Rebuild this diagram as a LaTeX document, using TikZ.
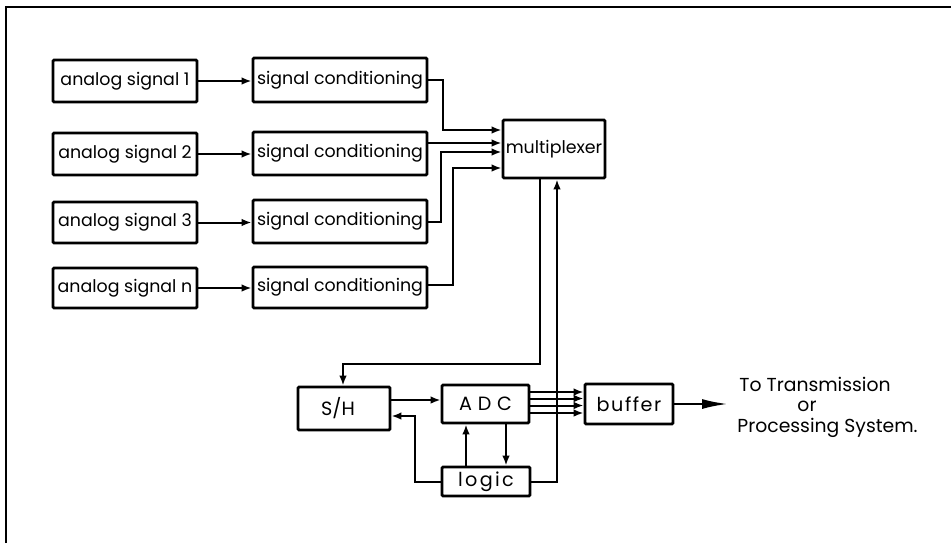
\documentclass[tikz,border=0pt]{standalone}
\usepackage{fontspec}
\setmainfont{Poppins}
\usetikzlibrary{arrows.meta}
\tikzset{
  blk/.style={draw, line width=1.4pt, rounded corners=0.6pt, inner sep=0pt, font=\fontsize{8.7}{10}\selectfont},
  arr/.style={line width=1pt, -{Latex[length=5pt,width=3.8pt]}},
  bigarr/.style={line width=1.2pt, -{Latex[length=13pt,width=5pt]}},
  lbl/.style={inner sep=0pt, font=\fontsize{9.4}{11}\selectfont}
}
\begin{document}
\begin{tikzpicture}[x=0.5pt,y=-0.5pt]
\useasboundingbox (0,0) rectangle (951,543);
% frame
\draw[line width=1.1pt] (6,543) -- (6,7) -- (951,7);
% sources
\node[blk, minimum width=72pt, minimum height=21pt] (a1) at (125,81) {analog signal 1};
\node[blk, minimum width=72pt, minimum height=21pt] (a2) at (125,154) {analog signal 2};
\node[blk, minimum width=72pt, minimum height=20.5pt] (a3) at (125,222.5) {analog signal 3};
\node[blk, minimum width=72pt, minimum height=20pt] (an) at (125,288) {analog signal n};
% conditioning
\node[blk, minimum width=87pt, minimum height=22pt] (s1) at (340,80) {signal conditioning};
\node[blk, minimum width=87pt, minimum height=21.5pt] (s2) at (340,153.5) {signal conditioning};
\node[blk, minimum width=87pt, minimum height=21.5pt] (s3) at (340,221.5) {signal conditioning};
\node[blk, minimum width=87pt, minimum height=20.5pt] (sn) at (340,287.5) {signal conditioning};
% multiplexer
\node[blk, minimum width=51pt, minimum height=29pt] (mux) at (554,149) {multiplexer};
% lower chain
\node[blk, minimum width=46pt, minimum height=21.5pt, font=\fontsize{9.6}{11}\selectfont] (sh) at (344,408.5) {\hspace*{-6pt}S/H};
\node[blk, minimum width=43.5pt, minimum height=19pt, font=\fontsize{9.6}{11}\selectfont] (adc) at (485.5,404) {\addfontfeature{LetterSpace=30}ADC};
\node[blk, minimum width=44pt, minimum height=14.5pt, font=\fontsize{9.6}{11}\selectfont] (logic) at (486,481.5) {\addfontfeature{LetterSpace=12}logic};
\node[blk, minimum width=44pt, minimum height=20pt, font=\fontsize{9.6}{11}\selectfont] (buf) at (629,404) {\addfontfeature{LetterSpace=8}buffer};
% output text
\coordinate (out) at (728,404);
\node[lbl, anchor=west] (t1) at (739,384) {To Transmission};
\node[lbl] (t2) at (807,406) {or};
\node[lbl, anchor=west] (t3) at (737,428) {Processing System.};
% source -> conditioning
\draw[arr] (a1.east) -- (a1.east -| s1.west);
\draw[arr] (a2.east) -- (a2.east -| s2.west);
\draw[arr] (a3.east) -- (a3.east -| s3.west);
\draw[arr] (an.east) -- (an.east -| sn.west);
% conditioning -> multiplexer
\draw[arr] (s1.east) -| (443,130) -- (mux.west |- 443,130);
\draw[arr] (s2.east |- 0,143) -- (mux.west |- 0,143);
\draw[arr] (s3.east) -| (441,152) -- (mux.west |- 441,152);
\draw[arr] (sn.east |- 0,285) -| (453,168) -- (mux.west |- 453,168);
% multiplexer -> S/H
\draw[arr] (mux.south -| 540,0) |- (343,364) -- (sh.north -| 343,0);
% logic -> multiplexer
\draw[arr] (logic.east) -| (mux.south -| 557,0);
% S/H -> ADC
\draw[arr] (sh.east |- 0,400) -- (adc.west |- 0,400);
% logic -> S/H
\draw[arr] (logic.west) -| (415,416) -- (sh.east |- 415,416);
% logic <-> ADC
\draw[arr] (logic.north -| 466,0) -- (adc.south -| 466,0);
\draw[arr] (adc.south -| 506,0) -- (logic.north -| 506,0);
% ADC -> buffer (parallel bits)
\foreach \yy in {392,398.5,405.5,413}{
  \draw[arr] (adc.east |- 0,\yy) -- (buf.west |- 0,\yy);
}
% buffer -> output
\draw[bigarr] (buf.east) -- (out);
\end{tikzpicture}
\end{document}
